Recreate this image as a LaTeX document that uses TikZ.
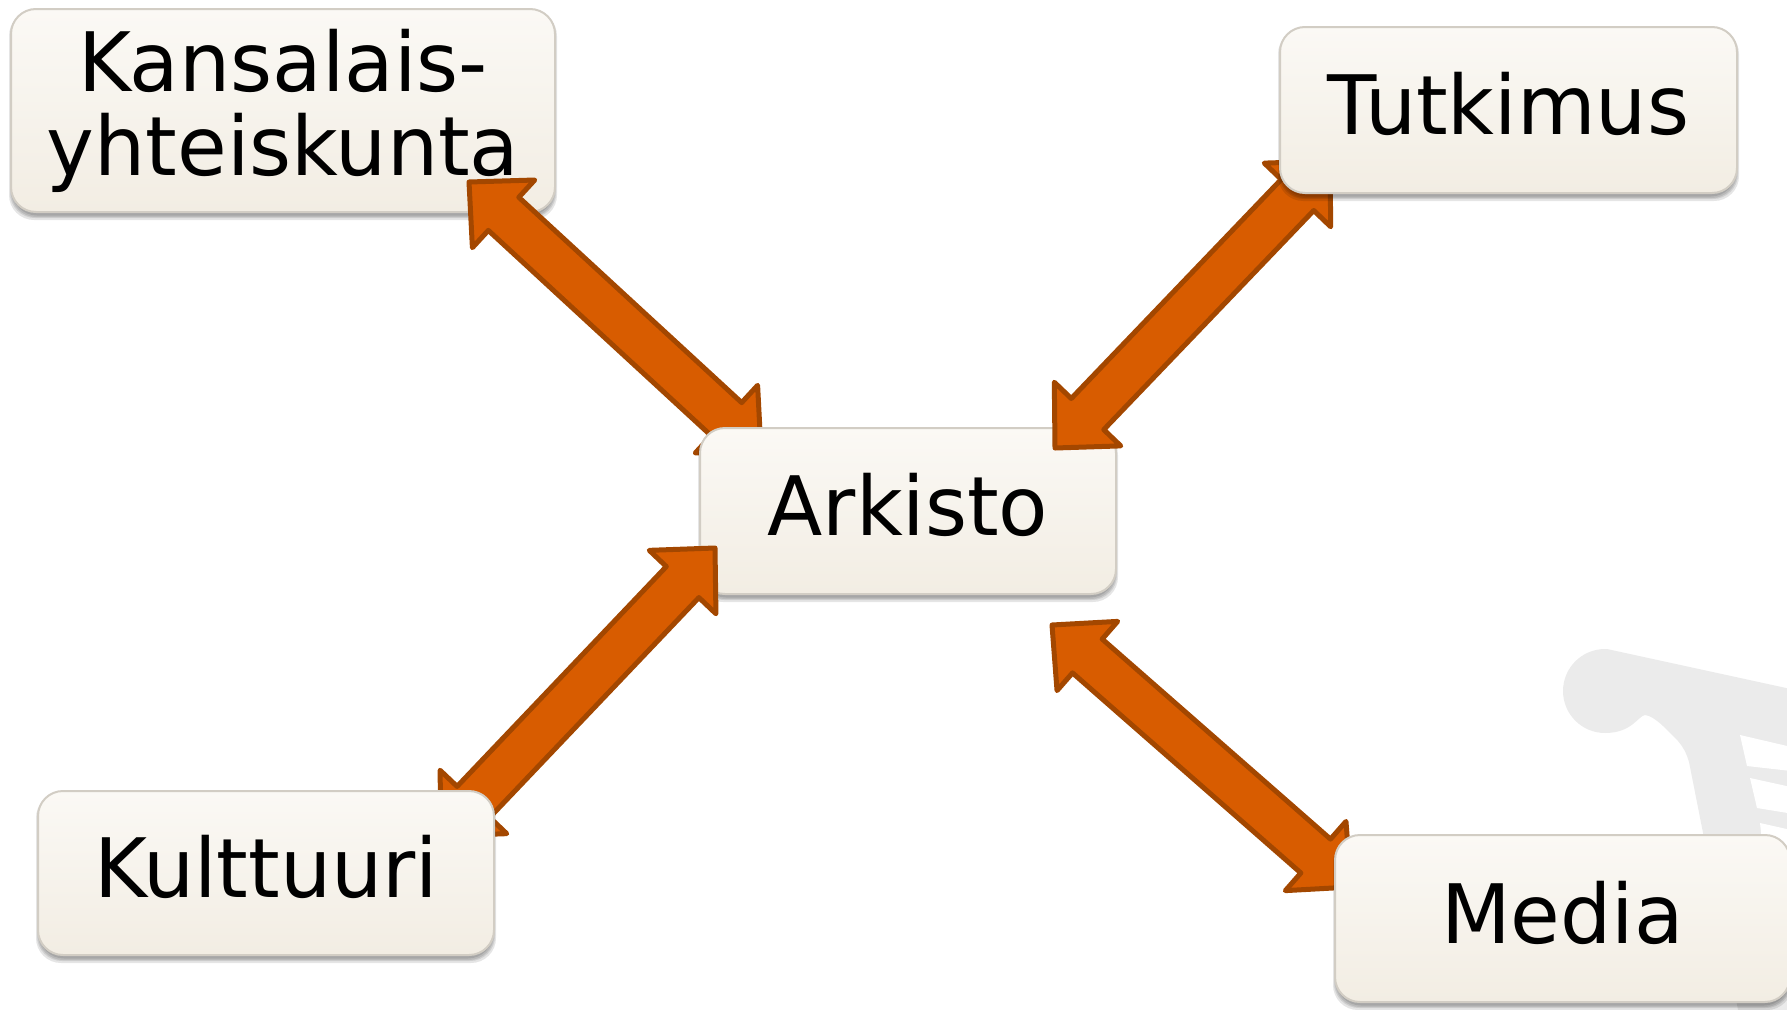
\documentclass[tikz,border=0pt]{standalone}
\usepackage{fontspec}
\setmainfont[FakeStretch=0.985]{DejaVu Sans}
\usetikzlibrary{calc,shapes.misc}
\definecolor{cartgrey}{HTML}{EBEBEB}
\definecolor{arrowfill}{HTML}{D85C00}
\definecolor{arrowline}{HTML}{A34700}
\definecolor{boxtop}{HTML}{FBF9F5}
\definecolor{boxbottom}{HTML}{F2EDE3}
\definecolor{boxline}{HTML}{D2CDC4}
\tikzset{
  boxlabel/.style={font=\fontsize{82pt}{84pt}\selectfont, align=center, inner sep=0pt, text=black},
  boxshape/.style={rounded corners=25pt, top color=boxtop, bottom color=boxbottom, draw=boxline, line width=2pt},
  boxshadow/.style={rounded corners=25pt, fill=black, fill opacity=0.10, draw=none},
  dblarrow/.style={fill=arrowfill, draw=arrowline, line width=5pt, line join=round}
}
\newcommand{\dblarrowpath}[2]{%
  \draw[dblarrow]
    (#1) -- ($(#1)!47pt!(#2)!46pt!90:(#2)$) -- ($(#1)!47pt!(#2)!22.5pt!90:(#2)$)
    -- ($(#2)!47pt!(#1)!22.5pt!-90:(#1)$) -- ($(#2)!47pt!(#1)!46pt!-90:(#1)$)
    -- (#2) -- ($(#2)!47pt!(#1)!46pt!90:(#1)$) -- ($(#2)!47pt!(#1)!22.5pt!90:(#1)$)
    -- ($(#1)!47pt!(#2)!22.5pt!-90:(#2)$) -- ($(#1)!47pt!(#2)!46pt!-90:(#2)$) -- cycle;%
}
\newcommand{\textbox}[7]{% name, x1,y1,x2,y2, text, text lift
  \fill[boxshadow] (#2-2,#3+2) rectangle (#4+2,#5+8);
  \fill[boxshadow] (#2-1,#3+2) rectangle (#4+1,#5+6);
  \fill[boxshadow] (#2,#3+2) rectangle (#4,#5+5);
  \fill[boxshadow] (#2+1,#3+2) rectangle (#4-1,#5+3.5);
  \draw[boxshape] (#2,#3) rectangle (#4,#5);
  \node[boxlabel] (#1) at ({(#2+#4)/2},{(#3+#5)/2-#7}) {#6};
}
\begin{document}
\begin{tikzpicture}[x=1pt,y=-1pt]
\useasboundingbox (0,0) rectangle (1787,1009);
% watermark
\begin{scope}
\clip (0,0) rectangle (1787,1009);
\fill[cartgrey] (1607,649) -- (1800,691) -- (1800,1020) -- (1740,1020) -- (1689,762)
  .. controls (1686,752) and (1683,747) .. (1678,741)
  .. controls (1668,731) and (1655,716) .. (1645,715)
  .. controls (1638,716) and (1632,733) .. (1605,733)
  arc[start angle=90,end angle=270,radius=42] -- cycle;
\fill[white] (1740,735) -- (1800,749) -- (1800,772) -- (1747,766) -- cycle;
\fill[white] (1750,778) -- (1800,789) -- (1800,815) -- (1757,808) -- cycle;
\fill[white] (1760,823) -- (1800,832) -- (1800,850) -- (1763,850) -- cycle;
\end{scope}
\coordinate (k1) at (469,182);
\coordinate (a1) at (761,451);
\coordinate (a2) at (1055,448);
\coordinate (t1) at (1330,161);
\coordinate (a3) at (715,548);
\coordinate (c1) at (441,836);
\coordinate (a4) at (1052,625);
\coordinate (m1) at (1351,887);
\textbox{kansalais}{11}{9}{555}{212}{Kansalais-\\yhteiskunta}{0}
\dblarrowpath{k1}{a1}
\textbox{arkisto}{700}{428}{1116}{594}{Arkisto}{6}
\dblarrowpath{a2}{t1}
\dblarrowpath{a3}{c1}
\textbox{tutkimus}{1280}{27}{1737}{193}{Tutkimus}{6}
\textbox{kulttuuri}{38}{791}{494}{955}{Kulttuuri}{6}
\dblarrowpath{a4}{m1}
\textbox{media}{1335}{835}{1790}{1002}{Media}{6}
\end{tikzpicture}
\end{document}
